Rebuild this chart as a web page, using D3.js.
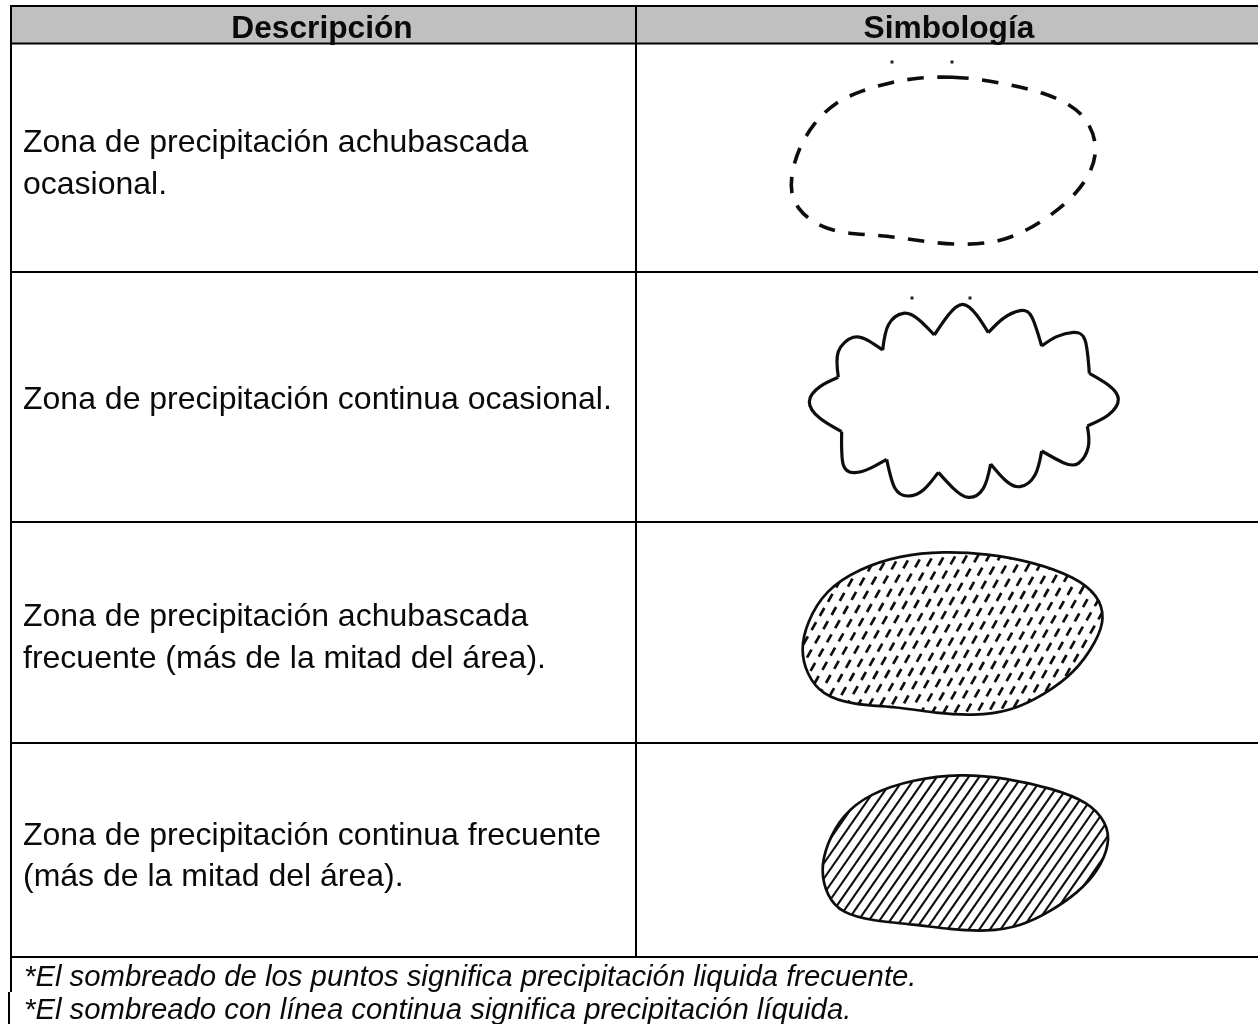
<!DOCTYPE html>
<html><head><meta charset="utf-8">
<script src="https://cdn.jsdelivr.net/npm/d3@7"></script>
<style>html,body{margin:0;padding:0;background:#fff;overflow:hidden}svg{display:block}text{font-family:"Liberation Sans",Arial,sans-serif;fill:#0a0a0a}</style>
</head><body><svg id="c" width="1258" height="1024"></svg>
<script>
const headers=["Descripción","Simbología"];
const descriptions=[
 ["Zona de precipitación achubascada","ocasional."],
 ["Zona de precipitación continua ocasional."],
 ["Zona de precipitación achubascada","frecuente (más de la mitad del área)."],
 ["Zona de precipitación continua frecuente","(más de la mitad del área)."]];
const notes=["*El sombreado de los puntos significa precipitación liquida frecuente.","*El sombreado con línea continua significa precipitación líquida."];
const rowEdges=[6,43.5,272,522,743,957];
const noteBaselines=[986,1019];
const lineBaselines=[[152,194],[409],[626,668],[845,886]];
const columnEdges=[11,636,1257];
// outlines (zoomed-crop pixels at 3x)
const dashedOutline=[[480,112],[580,110],[660,118],[760,136],[850,158],[930,192],[985,240],[1014,320],[995,395],[950,460],[880,522],[800,572],[720,606],[610,616],[500,606],[400,590],[320,584],[230,577],[160,550],[112,505],[92,460],[94,400],[116,325],[160,250],[225,186],[305,152],[390,127]];
const cloudLobes=[
 [[463,165],[505,105],[548,73],[590,105],[625,158]],
 [[625,158],[670,115],[720,92],[755,110],[785,198]],
 [[785,198],[830,170],[880,157],[915,180],[928,280]],
 [[928,280],[985,315],[1015,358],[985,405],[922,438]],
 [[922,438],[925,500],[895,550],[850,548],[785,513]],
 [[785,513],[765,585],[720,620],[675,600],[632,552]],
 [[632,552],[610,625],[565,652],[520,625],[475,577]],
 [[475,577],[430,630],[385,648],[345,625],[320,538]],
 [[320,538],[270,565],[225,578],[190,555],[185,455]],
 [[185,455],[120,415],[88,365],[120,320],[175,292]],
 [[175,292],[175,215],[220,172],[265,182],[308,210]],
 [[308,210],[325,135],[370,100],[415,118],[463,165]]];
const dottedOutline=[[490,64],[620,71],[760,96],[885,141],[955,196],[975,265],[950,333],[885,428],[793,494],[690,545],[580,557],[470,550],[350,530],[220,525],[125,495],[80,432],[62,360],[80,278],[136,180],[238,116],[360,76]];
const hatchedOutline=[[480,41],[620,54],[760,86],[865,126],[920,188],[930,250],[895,333],[833,399],[752,454],[660,500],[560,515],[450,508],[340,493],[220,483],[125,460],[80,407],[62,330],[80,253],[126,166],[208,101],[340,58]];
const ticks=[[892,62],[952,62],[912,298],[970,298]];

const svg=d3.select("#c");
const defs=svg.append("defs");
defs.append("filter").attr("id","soft").attr("x","-5%").attr("y","-5%").attr("width","110%").attr("height","110%")
  .append("feGaussianBlur").attr("stdDeviation",0.6);
const crop=(ox,oy)=>{const x=d3.scaleLinear().domain([0,3]).range([ox,ox+1]),y=d3.scaleLinear().domain([0,3]).range([oy,oy+1]);return p=>[x(p[0]),y(p[1])];};

svg.append("rect").attr("x",columnEdges[0]).attr("y",rowEdges[0]).attr("width",1258-columnEdges[0]).attr("height",rowEdges[1]-rowEdges[0]).attr("fill","#c0c0c0");

const closed=d3.line().curve(d3.curveBasisClosed);
const open=d3.line().curve(d3.curveNatural);
const ink="#0c0c0c";
const art=svg.append("g").attr("filter","url(#soft)");

art.append("path").attr("d",closed(dashedOutline.map(crop(760,40)))).attr("fill","none").attr("stroke",ink).attr("stroke-width",3.6).attr("stroke-dasharray","16.5 13.5").attr("stroke-linecap","butt");
art.append("path").attr("d",cloudLobes.map(l=>open(l.map(crop(780,280)))).join("")).attr("fill","none").attr("stroke",ink).attr("stroke-width",3.2).attr("stroke-linejoin","round");
const dp=dottedOutline.map(crop(780,530));
defs.append("clipPath").attr("id","cd").append("path").attr("d",closed(dp));
const dg=art.append("g").attr("clip-path","url(#cd)");
const cells=d3.cross(d3.range(-6,40),d3.range(0,22));
dg.selectAll("line").data(cells).join("line")
  .attr("x1",d=>790+d[0]*11.8+d[1]*3.6).attr("y1",d=>551-d[0]*1.0+d[1]*13.2)
  .attr("x2",d=>794.5+d[0]*11.8+d[1]*3.6).attr("y2",d=>543-d[0]*1.0+d[1]*13.2)
  .attr("stroke",ink).attr("stroke-width",2.7);
art.append("path").attr("d",closed(dp)).attr("fill","none").attr("stroke",ink).attr("stroke-width",2.7);
const hp=hatchedOutline.map(crop(800,760));
defs.append("clipPath").attr("id","ch").append("path").attr("d",closed(hp));
const hg=art.append("g").attr("clip-path","url(#ch)");
hg.selectAll("line").data(d3.range(0,52)).join("line")
  .attr("x1",i=>760+i*10.6).attr("y1",940).attr("x2",i=>760+i*10.6+125).attr("y2",760)
  .attr("stroke",ink).attr("stroke-width",2.1);
art.append("path").attr("d",closed(hp)).attr("fill","none").attr("stroke",ink).attr("stroke-width",2.7);

svg.selectAll("rect.t").data(ticks).join("rect").attr("class","t").attr("x",d=>d[0]-1.5).attr("y",d=>d[1]-1.5).attr("width",3).attr("height",3).attr("fill","#222");

const g=svg.append("g").attr("stroke","#000").attr("stroke-width",2);
rowEdges.forEach(y=>g.append("line").attr("x1",columnEdges[0]-1).attr("x2",1258).attr("y1",y).attr("y2",y));
g.append("line").attr("x1",columnEdges[0]).attr("x2",columnEdges[0]).attr("y1",5).attr("y2",992);
g.append("line").attr("x1",columnEdges[0]-2).attr("x2",columnEdges[0]-2).attr("y1",992).attr("y2",1024);
g.append("line").attr("x1",columnEdges[1]).attr("x2",columnEdges[1]).attr("y1",rowEdges[0]).attr("y2",rowEdges[5]);

svg.selectAll("text.h").data(headers).join("text").attr("class","h")
  .attr("x",(d,i)=>[322,949][i]).attr("y",37.5).attr("text-anchor","middle").attr("font-weight","bold").attr("font-size",31.7).text(d=>d);
descriptions.forEach((lines,r)=>lines.forEach((t,i)=>svg.append("text").attr("x",23).attr("y",lineBaselines[r][i]).attr("font-size",32).text(t)));
notes.forEach((t,i)=>svg.append("text").attr("x",24).attr("y",noteBaselines[i]).attr("font-style","italic").attr("font-size",29.3).text(t));
</script></body></html>
